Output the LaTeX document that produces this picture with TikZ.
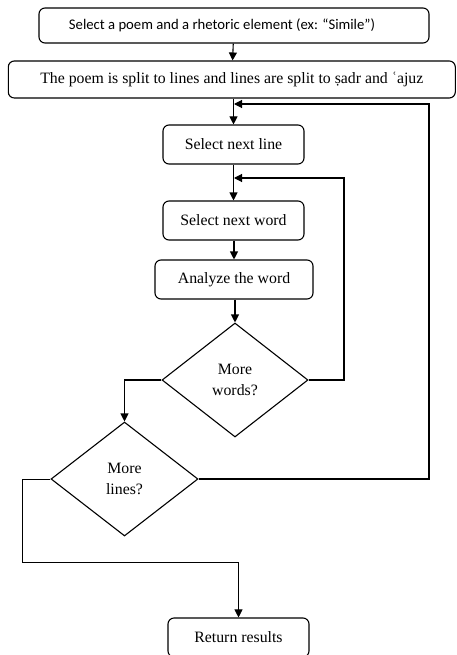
\documentclass[tikz,border=0pt]{standalone}
\usepackage{fontspec}
\setmainfont{Liberation Serif}
\newfontfamily\calib{Carlito}
\usetikzlibrary{shapes.geometric,arrows.meta}
\begin{document}
\begin{tikzpicture}[x=1pt,y=-1pt,
  box/.style={draw,line width=1.1pt,rounded corners=6pt,rectangle,inner sep=0pt,
    font=\fontsize{15.8}{19}\selectfont},
  dia/.style={draw,line width=1.1pt,diamond,inner sep=0pt,align=center,
    font=\fontsize{15.8}{21}\selectfont},
  con/.style={line width=1.1pt},
  arr/.style={line width=1.1pt,-{Triangle[length=8pt,width=8pt]}}]
\useasboundingbox (0,0) rectangle (456,655);
\begin{scope}
\clip (0,0) rectangle (456,655);
\node[box,minimum width=390pt,minimum height=35pt,font=\calib\fontsize{14.7}{17}\selectfont] (b1) at (234,25.5) {Select a poem and a rhetoric element (ex: “Simile”)\hspace*{24pt}};
\node[box,minimum width=447pt,minimum height=37pt] (b2) at (231.8,79.5) {The poem is split to lines and lines are split to ṣadr and ʿajuz};
\node[box,minimum width=141pt,minimum height=39pt] (b3) at (233.5,144.5) {Select next line};
\node[box,minimum width=141pt,minimum height=39pt] (b4) at (233.5,220.5) {Select next word};
\node[box,minimum width=158pt,minimum height=39pt] (b5) at (234,279.5) {Analyze the word};
\node[dia,minimum width=146pt,minimum height=114pt] (d1) at (235,380) {More\\words?};
\node[dia,minimum width=147pt,minimum height=114pt] (d2) at (124.5,479) {More\\lines?};
\node[box,minimum width=141pt,minimum height=39pt] (b6) at (238.5,637.5) {Return results};
\end{scope}
\coordinate (j1) at (234,104);
\coordinate (j2) at (234,178);
\coordinate (r1) at (429,104);
\coordinate (r2) at (344,178);
\coordinate (l1) at (22,562);
\draw[arr] (b1) -- (b2);
\draw[arr] (b2.south -| b3.north) -- (b3.north);
\draw[arr] (b3) -- (b4);
\draw[arr] (b4.south -| b5.north) -- (b5.north);
\draw[arr] (b5.south -| d1.north) -- (d1.north);
\draw[arr] (d1.east) -| (r2) -- (j2);
\draw[arr] (d2.east) -| (r1) -- (j1);
\draw[arr] (d1.west) -| (d2.north);
\draw[arr,line width=0.8pt] (d2.west) -| (l1) -| (b6.north);
\end{tikzpicture}
\end{document}
